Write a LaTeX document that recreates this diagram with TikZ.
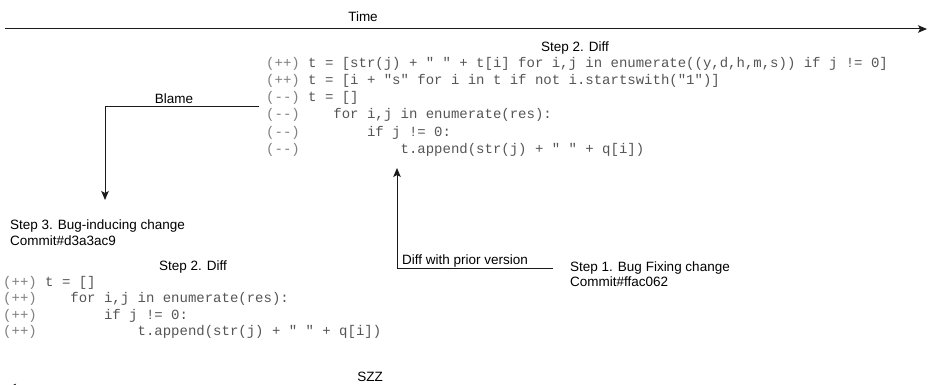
\documentclass[tikz,border=0pt]{standalone}
\usepackage{fontspec}
\setmainfont{Liberation Sans}
\newfontfamily\codef{Liberation Mono}
\usetikzlibrary{arrows.meta,fit,calc}
\definecolor{codecol}{HTML}{555555}
\definecolor{precol}{HTML}{808080}
\definecolor{linecol}{HTML}{1A1A1A}
\newcommand\pfx[1]{{\color{precol}#1}}
\begin{document}
\begin{tikzpicture}[x=1pt,y=-1pt,
  lbl/.style={font=\fontsize{13.5}{16}\selectfont, inner sep=0pt, text=black},
  codeln/.style={font=\codef\fontsize{14}{17}\selectfont, inner sep=0pt, anchor=base west, text=codecol},
  conn/.style={draw=linecol, line width=1pt, -{Stealth[length=9pt,width=7.5pt,inset=2pt]}},
  ]
\useasboundingbox (0,0) rectangle (928,385);
\clip (0,0) rectangle (928,385);

% time axis
\node[lbl, anchor=base] (time) at (363,22) {Time};
\coordinate (t0) at (5,29);
\coordinate (t1) at (927,29);
\draw[conn] (t0) -- (t1);

% step 2 diff (top)
\node[lbl, anchor=base] (diffA) at (575,52) {Step 2. Diff};
\node[codeln] (c1a) at (266,68) {\pfx{(++)}~t~=~[str(j)~+~"~"~+~t[i]~for~i,j~in~enumerate((y,d,h,m,s))~if~j~!=~0]};
\node[codeln] (c1b) at (266,85) {\pfx{(++)}~t~=~[i~+~"s"~for~i~in~t~if~not~i.startswith("1")]};
\node[codeln] (c1c) at (266,102) {\pfx{(-{}-)}~t~=~[]};
\node[codeln] (c1d) at (266,119) {\pfx{(-{}-)}~~~~for~i,j~in~enumerate(res):};
\node[codeln] (c1e) at (266,136) {\pfx{(-{}-)}~~~~~~~~if~j~!=~0:};
\node[codeln] (c1f) at (266,153) {\pfx{(-{}-)}~~~~~~~~~~~~t.append(str(j)~+~"~"~+~q[i])};
\node[fit=(c1a)(c1f), inner sep=0pt, inner xsep=7pt] (code1) {};

% step 3
\node[lbl, anchor=base west] (step3) at (10,229) {Step 3. Bug-inducing change};
\node[lbl, anchor=base west] (step3b) at (10,245) {Commit\#d3a3ac9};
\coordinate (blameend) at (105,200);
\draw[conn] (code1.west) -| (blameend);
\node[lbl, anchor=base] (blame) at (174,103) {Blame};

% step 2 diff (bottom)
\node[lbl, anchor=base] (diffB) at (193,270) {Step 2. Diff};
\node[codeln] (c2a) at (3,286) {\pfx{(++)}~t~=~[]};
\node[codeln] (c2b) at (3,302.5) {\pfx{(++)}~~~~for~i,j~in~enumerate(res):};
\node[codeln] (c2c) at (3,319) {\pfx{(++)}~~~~~~~~if~j~!=~0:};
\node[codeln] (c2d) at (3,335.5) {\pfx{(++)}~~~~~~~~~~~~t.append(str(j)~+~"~"~+~q[i])};

% step 1
\node[lbl, anchor=base west] (step1) at (570,271) {Step 1. Bug Fixing change};
\node[lbl, anchor=base west] (step1b) at (570,286) {Commit\#ffac062};
\coordinate (diffstart) at (553,268);
\coordinate (difftip) at (397,168);
\draw[conn] (diffstart) -| (difftip);
\node[lbl, anchor=base west] (dlabel) at (402,264) {Diff with prior version};

% SZZ
\node[lbl, anchor=base] (szz) at (370,381) {SZZ};
\coordinate (s0) at (925,387.5);
\coordinate (s1) at (7,387.5);
\draw[conn] (s0) -- (s1);
\end{tikzpicture}
\end{document}
